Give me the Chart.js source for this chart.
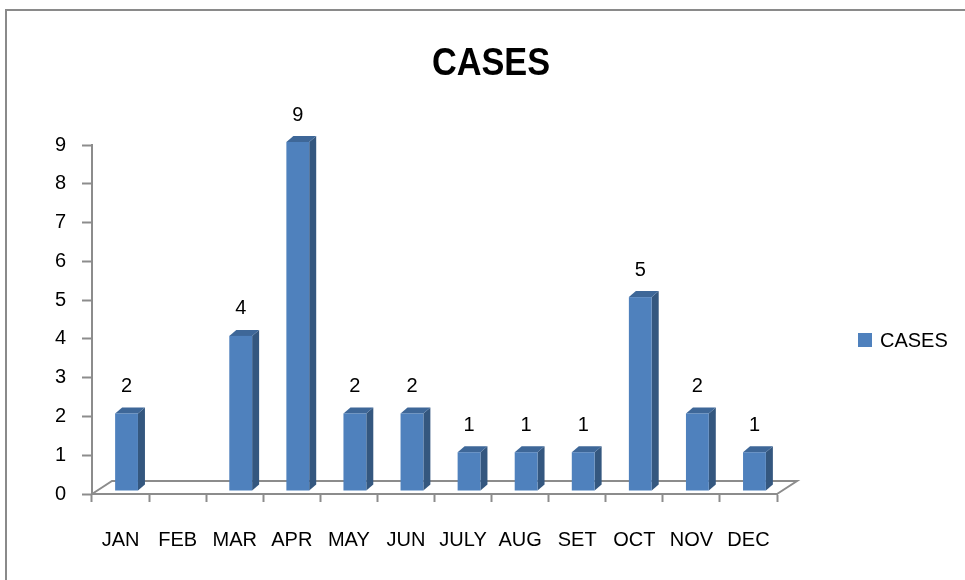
<!DOCTYPE html>
<html>
<head>
<meta charset="utf-8">
<script src="https://cdn.jsdelivr.net/npm/chart.js@4/dist/chart.umd.min.js"></script>
<style>
  html, body { margin: 0; padding: 0; background: #ffffff; }
  #wrap { position: relative; width: 965px; height: 580px; }
</style>
</head>
<body>
<div id="wrap"><canvas id="c" width="965" height="580"></canvas></div>
<script>
// ---- data ----
const categories = ['JAN', 'FEB', 'MAR', 'APR', 'MAY', 'JUN', 'JULY', 'AUG', 'SET', 'OCT', 'NOV', 'DEC'];
const cases = [2, null, 4, 9, 2, 2, 1, 1, 1, 5, 2, 1];
const seriesName = 'CASES';
const chartTitle = 'CASES';
const yMin = 0, yMax = 9, yStep = 1;

// ---- styles ----
const FONT = "'Liberation Sans', Arial, sans-serif";
const AXIS_COLOR = '#8c8c8c';
const FRONT = '#4f81bd';
const SIDE = '#34577f';
const TOP = '#3e6798';

const floorPlugin = {
  id: 'floor3d',
  beforeDatasetsDraw(chart) {
    const { ctx, chartArea: a } = chart;
    ctx.save();
    ctx.strokeStyle = AXIS_COLOR;
    ctx.lineWidth = 2;
    ctx.beginPath();
    ctx.moveTo(a.left, a.bottom);
    ctx.lineTo(a.left + 20, a.bottom - 13);
    ctx.lineTo(a.right + 20, a.bottom - 13);
    ctx.lineTo(a.right, a.bottom);
    ctx.stroke();
    ctx.restore();
  }
};

const bar3dPlugin = {
  id: 'bar3d',
  afterDatasetsDraw(chart) {
    const { ctx } = chart;
    const meta = chart.getDatasetMeta(0);
    ctx.save();
    meta.data.forEach((el, i) => {
      if (cases[i] == null) return;
      const p = el.getProps(['x', 'y', 'base', 'width'], true);
      const left = p.x - p.width / 2 + 6;
      const right = left + p.width;
      const top = p.y - 3;
      const bottom = p.base - 3;
      const dx = 7, dy = -6;
      ctx.fillStyle = SIDE;
      ctx.beginPath();
      ctx.moveTo(right, top);
      ctx.lineTo(right + dx, top + dy);
      ctx.lineTo(right + dx, bottom + dy);
      ctx.lineTo(right, bottom);
      ctx.closePath();
      ctx.fill();
      ctx.fillStyle = TOP;
      ctx.beginPath();
      ctx.moveTo(left, top);
      ctx.lineTo(left + dx, top + dy);
      ctx.lineTo(right + dx, top + dy);
      ctx.lineTo(right, top);
      ctx.closePath();
      ctx.fill();
      ctx.fillStyle = FRONT;
      ctx.fillRect(left, top, p.width, bottom - top);
      ctx.fillStyle = '#000000';
      ctx.font = '20px ' + FONT;
      ctx.textAlign = 'center';
      ctx.textBaseline = 'middle';
      ctx.fillText(String(cases[i]), left + p.width / 2, top - 27);
    });
    ctx.restore();
  }
};

const decorPlugin = {
  id: 'decor',
  afterDraw(chart) {
    const { ctx } = chart;
    ctx.save();
    // frame
    ctx.strokeStyle = '#8a8a8a';
    ctx.lineWidth = 2;
    ctx.beginPath();
    ctx.moveTo(6, 580);
    ctx.lineTo(6, 10);
    ctx.lineTo(965, 10);
    ctx.stroke();
    // title (condensed bold, like the original)
    ctx.save();
    ctx.translate(491, 75);
    ctx.scale(0.88, 1);
    ctx.fillStyle = '#000000';
    ctx.font = 'bold 39px ' + FONT;
    ctx.textAlign = 'center';
    ctx.textBaseline = 'alphabetic';
    ctx.fillText(chartTitle, 0, 0);
    ctx.restore();
    // legend
    ctx.fillStyle = FRONT;
    ctx.fillRect(858, 333, 14, 14);
    ctx.fillStyle = '#000000';
    ctx.font = '20px ' + FONT;
    ctx.textAlign = 'left';
    ctx.textBaseline = 'middle';
    ctx.fillText(seriesName, 880, 341);
    ctx.restore();
  }
};

new Chart(document.getElementById('c'), {
  type: 'bar',
  data: {
    labels: categories,
    datasets: [{
      label: seriesName,
      data: cases,
      backgroundColor: 'rgba(0,0,0,0)',
      borderWidth: 0,
      barPercentage: 0.4,
      categoryPercentage: 1.0
    }]
  },
  options: {
    responsive: false,
    animation: false,
    events: [],
    layout: { padding: { left: 0, right: 188, top: 145, bottom: 0 } },
    plugins: {
      legend: { display: false },
      tooltip: { enabled: false },
      title: { display: false }
    },
    scales: {
      x: {
        grid: {
          display: true,
          drawOnChartArea: false,
          drawTicks: true,
          tickLength: 8,
          tickColor: AXIS_COLOR,
          tickWidth: 2,
          offset: true
        },
        border: { display: true, color: AXIS_COLOR, width: 2 },
        ticks: {
          color: '#000000',
          font: { family: FONT, size: 20 },
          padding: 26,
          maxRotation: 0,
          autoSkip: false
        },
        afterFit(scale) { scale.height = 86; }
      },
      y: {
        min: yMin,
        max: yMax,
        grid: {
          display: true,
          drawOnChartArea: false,
          drawTicks: true,
          tickLength: 10,
          tickColor: AXIS_COLOR,
          tickWidth: 2
        },
        border: { display: true, color: AXIS_COLOR, width: 2 },
        ticks: {
          stepSize: yStep,
          color: '#000000',
          font: { family: FONT, size: 20 },
          padding: 16
        },
        afterFit(scale) { scale.width = 92; }
      }
    }
  },
  plugins: [floorPlugin, bar3dPlugin, decorPlugin]
});
</script>
</body>
</html>
